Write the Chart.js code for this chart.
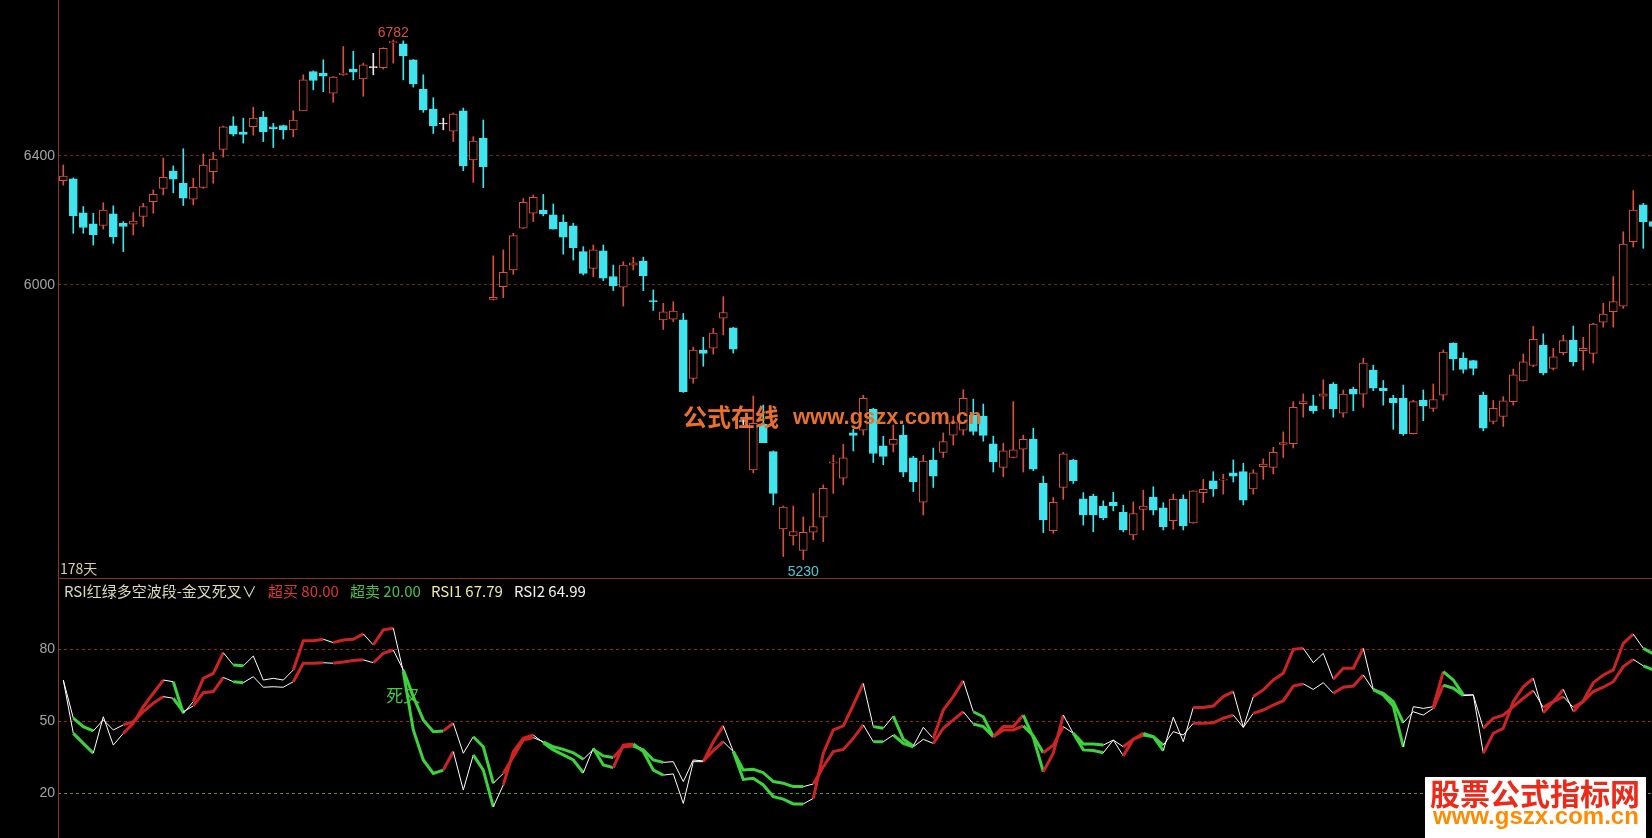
<!DOCTYPE html>
<html>
<head>
<meta charset="utf-8">
<script src="https://cdn.jsdelivr.net/npm/chart.js@4.4.1/dist/chart.umd.min.js"></script>
<style>
  html, body { margin: 0; padding: 0; background: #000; }
  body { width: 1652px; height: 838px; position: relative; overflow: hidden; }
  canvas { position: absolute; left: 0; }
  #kline { top: 0; }
  #rsi { top: 578px; }
  .t { position: absolute; white-space: nowrap; font: 15px/17px "Noto Sans CJK SC", sans-serif; z-index: 2; }
  .wm { position: absolute; white-space: nowrap; font-weight: bold; z-index: 3; }
  #logo { position: absolute; left: 1425px; top: 777px; width: 221px; height: 61px; background: #fff; z-index: 3; }
</style>
</head>
<body>
<canvas id="kline" width="1652" height="578"></canvas>
<canvas id="rsi" width="1652" height="260"></canvas>

<div class="t" style="left:64px; top:582px; color:#dcdcb4">RSI红绿多空波段-金叉死叉∨</div>
<div class="t" style="left:268px; top:582px; color:#d83a30">超买 80.00</div>
<div class="t" style="left:350px; top:582px; color:#4cc04c">超卖 20.00</div>
<div class="t" style="left:431px; top:582px; color:#ecec9c">RSI1 67.79</div>
<div class="t" style="left:514px; top:582px; color:#f0f0f0">RSI2 64.99</div>

<div class="wm" style="left:683px; top:404px; color:#e8702c; font-size:24px; line-height:24px; font-family:'Noto Sans CJK SC'">公式在线</div>
<div class="wm" style="left:793px; top:406px; color:#e8702c; font-size:22px; line-height:22px; font-family:'Liberation Sans'">www.gszx.com.cn</div>
<div id="logo"></div>
<div class="wm" style="left:1430px; top:777px; color:#ec2a1a; font-size:30px; line-height:30px; font-family:'Noto Sans CJK SC'">股票公式指标网</div>
<div class="wm" style="left:1433px; top:804px; color:#ff8c00; font-size:24px; line-height:24px; font-family:'Liberation Sans'">www.gszx.com.cn</div>

<script>
// price ticks and rsi ticks
const priceTicks = [6000, 6400]
const rsiTicks = [20, 50, 80]
const dayCount = '178天'
const deathCrossAt = 34

const openP = [6321,6327,6220,6186,6181,6217,6188,6185,6209,6255,
  6297,6352,6313,6263,6300,6350,6421,6497,6477,6494,
  6525,6494,6498,6484,6546,6676,6671,6604,6665,6684,
  6651,6689,6689,6772,6769,6715,6617,6552,6503,6480,
  6546,6387,6457,5957,5995,6045,6173,6219,6229,6214,
  6191,6180,6101,6050,6103,6025,5993,6060,6072,5953,
  5896,5898,5896,5726,5808,5813,5901,5873,5604,5470,
  5597,5520,5311,5292,5254,5302,5342,5488,5447,5572,
  5580,5638,5536,5540,5566,5503,5382,5497,5518,5566,
  5580,5621,5619,5542,5477,5504,5527,5555,5433,5306,
  5422,5497,5391,5399,5372,5382,5355,5295,5363,5396,
  5367,5333,5390,5327,5408,5440,5442,5462,5465,5418,
  5479,5477,5540,5542,5654,5648,5675,5710,5627,5695,
  5681,5750,5698,5669,5669,5570,5664,5641,5678,5828,
  5784,5777,5678,5604,5618,5660,5719,5763,5822,5755,
  5800,5837,5806,5798,5889,5920,5937,6131,6245,6193]

const highP = [6371,6330,6240,6219,6252,6242,6193,6221,6250,6292,
  6393,6368,6423,6329,6406,6411,6496,6527,6522,6558,
  6544,6505,6499,6546,6665,6678,6715,6659,6760,6744,
  6704,6737,6756,6782,6779,6716,6665,6589,6522,6539,
  6555,6462,6516,6088,6106,6157,6265,6276,6278,6248,
  6214,6188,6116,6121,6121,6060,6070,6084,6084,5985,
  5945,5950,5915,5816,5845,5871,5965,5874,5615,5676,
  5650,5522,5372,5372,5343,5406,5429,5510,5540,5582,
  5678,5641,5563,5594,5594,5507,5510,5530,5572,5619,
  5694,5667,5653,5563,5543,5660,5566,5585,5453,5395,
  5518,5499,5408,5404,5386,5409,5374,5383,5415,5424,
  5381,5404,5402,5413,5444,5465,5458,5497,5488,5470,
  5500,5532,5575,5660,5682,5678,5722,5714,5693,5701,
  5784,5764,5720,5678,5707,5664,5693,5710,5808,5829,
  5800,5778,5687,5663,5674,5753,5796,5877,5855,5813,
  5851,5878,5845,5886,5945,6025,6162,6290,6250,6200]

const lowP = [6307,6157,6157,6121,6170,6126,6101,6152,6178,6219,
  6276,6283,6243,6245,6297,6313,6396,6464,6441,6467,
  6446,6427,6454,6462,6546,6615,6609,6574,6663,6648,
  6594,6665,6684,6704,6648,6624,6541,6472,6484,6446,
  6353,6316,6299,5955,5962,6032,6172,6193,6211,6170,
  6093,6075,6030,6025,6013,5983,5937,6045,5983,5924,
  5868,5891,5686,5712,5761,5796,5852,5799,5595,5462,
  5545,5375,5238,5268,5230,5282,5277,5406,5429,5522,
  5566,5490,5484,5519,5451,5411,5348,5422,5504,5538,
  5566,5566,5549,5464,5451,5503,5464,5468,5301,5299,
  5390,5433,5321,5303,5335,5359,5303,5282,5308,5348,
  5308,5310,5308,5326,5381,5398,5404,5437,5375,5404,
  5444,5459,5504,5530,5616,5627,5639,5616,5616,5634,
  5644,5691,5650,5582,5565,5569,5606,5632,5664,5750,
  5741,5736,5578,5597,5590,5650,5718,5760,5736,5750,
  5794,5762,5750,5770,5875,5875,5930,6115,6111,6170]

const closeP = [6336,6211,6175,6153,6229,6147,6178,6195,6240,6278,
  6332,6326,6266,6300,6371,6390,6494,6470,6469,6522,
  6478,6487,6484,6516,6648,6646,6660,6657,6671,6674,
  6698,6689,6754,6777,6728,6635,6549,6497,6503,6535,
  6368,6448,6366,5963,6038,6150,6253,6269,6217,6170,
  6145,6113,6035,6106,6020,5997,6060,6067,6028,5949,
  5920,5922,5688,5808,5798,5857,5918,5810,5604,5599,
  5545,5406,5369,5304,5302,5317,5420,5492,5503,5565,
  5669,5515,5507,5554,5464,5438,5494,5453,5548,5601,
  5669,5576,5565,5492,5522,5525,5554,5472,5335,5382,
  5514,5440,5348,5348,5341,5373,5308,5352,5372,5361,
  5317,5390,5319,5413,5417,5418,5444,5453,5388,5462,
  5486,5518,5545,5644,5660,5634,5682,5639,5681,5681,
  5770,5698,5691,5657,5570,5660,5648,5666,5802,5782,
  5752,5755,5585,5641,5662,5736,5774,5839,5742,5788,
  5835,5774,5813,5884,5913,5950,6124,6229,6193,6178]

const rsi1 = [67.2,45.0,40.8,36.7,51.9,40.1,45.0,49.2,56.1,61.7,
  67.2,66.5,53.3,58.2,67.9,70.0,78.6,73.5,73.1,77.2,
  67.2,67.9,67.2,71.4,83.6,83.6,84.2,82.8,83.9,84.2,
  86.4,81.8,88.1,88.8,70.7,46.4,33.9,28.3,29.7,37.4,
  21.4,36.0,29.7,14.4,23.5,37.4,42.9,44.3,41.1,38.1,
  36.0,33.9,28.6,38.8,31.8,30.7,40.1,40.6,37.4,29.7,
  27.6,28.1,15.8,33.2,33.2,41.5,48.1,37.4,25.8,26.3,
  23.5,18.6,17.6,15.6,15.6,17.9,36.7,46.4,48.1,56.8,
  65.8,47.8,47.1,52.2,42.5,39.7,47.5,42.9,54.7,60.3,
  66.9,54.0,51.9,43.6,47.8,47.8,52.6,43.3,29.0,36.7,
  52.6,45.0,38.1,37.8,36.9,42.2,35.6,42.5,45.0,43.6,
  37.8,51.7,41.5,55.8,55.8,56.4,60.3,62.4,47.5,60.3,
  63.1,67.2,70.0,80.0,80.4,74.4,78.3,67.5,72.1,72.1,
  80.4,63.3,61.0,56.4,39.4,56.1,55.4,56.1,70.7,67.2,
  61.0,61.0,36.7,45.0,47.1,58.2,64.4,67.9,53.6,58.2,
  63.3,54.0,58.6,66.1,69.3,71.4,82.5,86.3,80.4,78.1]

const rsi2 = [67.2,51.3,47.8,46.0,50.6,46.4,48.5,49.9,54.0,57.5,
  60.3,59.6,54.0,56.4,61.9,62.4,68.3,66.5,66.1,68.6,
  64.2,64.4,64.2,66.5,74.2,74.2,74.4,74.2,74.7,75.3,
  75.6,74.4,78.3,79.7,71.4,60.3,50.6,45.7,46.0,49.2,
  36.7,43.6,39.4,24.2,28.3,35.3,42.2,43.2,41.5,39.4,
  38.3,36.9,34.2,38.3,35.6,34.9,39.4,39.7,38.1,33.9,
  32.9,33.2,24.9,33.9,33.5,37.8,41.5,37.4,29.7,30.0,
  28.6,24.9,24.2,22.8,22.8,23.9,31.1,37.4,38.3,42.9,
  48.5,41.5,41.5,44.3,40.8,39.4,42.5,40.8,47.1,50.6,
  54.0,48.9,47.8,43.6,46.4,46.4,48.1,43.9,36.9,40.1,
  47.8,45.0,40.6,40.6,40.1,42.2,39.4,42.5,44.3,43.6,
  40.1,45.7,44.3,49.2,49.2,49.4,51.3,52.6,47.5,53.3,
  54.7,56.8,58.6,64.7,65.6,63.3,66.1,61.7,64.2,64.7,
  69.3,63.1,61.7,58.2,49.4,54.0,52.6,55.4,65.1,63.8,
  60.7,61.0,47.1,51.3,52.6,56.1,59.6,62.8,55.8,58.2,
  60.3,55.8,58.2,62.4,64.2,66.5,72.8,75.8,73.1,71.4]

// 1 = 多 (red), -1 = 空 (green), 0 = none ; value i colours the step from i-1 to i
const waveState = [0,0,-1,-1,0,0,0,1,1,1,
  1,0,-1,0,1,1,1,0,-1,0,
  0,0,0,0,1,1,1,0,1,1,
  1,0,1,1,0,-1,-1,-1,-1,1,
  0,0,-1,-1,0,1,1,1,0,-1,
  -1,-1,-1,0,-1,-1,1,1,-1,-1,
  -1,0,0,0,0,1,1,0,-1,-1,
  -1,-1,-1,-1,-1,0,1,1,1,1,
  1,0,-1,0,-1,-1,0,0,1,1,
  1,0,-1,-1,1,1,1,-1,-1,1,
  1,0,-1,-1,-1,0,0,1,1,-1,
  -1,0,0,0,1,1,1,1,0,0,
  1,1,1,1,1,0,0,0,1,1,
  1,0,-1,-1,-1,0,0,0,1,-1,
  -1,0,0,1,1,1,1,1,0,1,
  1,0,1,1,1,1,1,1,0,-1]

const UP = '#d9503f'
const DOWN = '#40e4ec'
const FLAT = '#e8e8e8'
const FRAME = '#8c3426'
const xMin = -0.53
const xMax = 158.87

const idx = openP.map((v, i) => i)

function candleColor(i) {
  if (closeP[i] > openP[i]) return UP
  if (closeP[i] < openP[i]) return DOWN
  return FLAT
}

function fixAxis(s) {
  s.width = 58
  s.paddingTop = 0
  s.paddingBottom = 0
}

const framePlugin = {
  id: 'frame',
  afterDraw(chart, args, opts) {
    const ctx = chart.ctx
    ctx.save()
    ctx.strokeStyle = FRAME
    ctx.lineWidth = 1
    ctx.beginPath()
    ctx.moveTo(58.5, 0)
    ctx.lineTo(58.5, chart.height)
    if (opts.top) {
      ctx.moveTo(58, 0.5)
      ctx.lineTo(chart.width, 0.5)
    }
    ctx.stroke()
    ctx.restore()
  }
}

const priceMarks = {
  id: 'priceMarks',
  afterDatasetsDraw(chart) {
    const ctx = chart.ctx
    const x = chart.scales.x
    const y = chart.scales.y
    let hi = 0, lo = 0
    for (let i = 0; i < highP.length; i++) {
      if (highP[i] > highP[hi]) hi = i
      if (lowP[i] < lowP[lo]) lo = i
    }
    ctx.save()
    ctx.font = '14px "Liberation Sans"'
    ctx.textAlign = 'center'
    ctx.textBaseline = 'alphabetic'
    ctx.fillStyle = UP
    ctx.fillText(String(highP[hi]), x.getPixelForValue(hi), y.getPixelForValue(highP[hi]) - 3)
    ctx.fillStyle = '#4cc8d6'
    ctx.fillText(String(lowP[lo]), x.getPixelForValue(lo), y.getPixelForValue(lowP[lo]) + 16)
    ctx.textAlign = 'left'
    ctx.fillStyle = '#d8d0a8'
    ctx.font = '14px "Noto Sans CJK SC"'
    ctx.fillText(dayCount, chart.chartArea.left + 2, chart.chartArea.bottom - 4)
    ctx.restore()
  }
}

const crossMark = {
  id: 'crossMark',
  afterDatasetsDraw(chart) {
    const ctx = chart.ctx
    const x = chart.scales.x
    const y = chart.scales.y
    const mid = (rsi1[deathCrossAt] + rsi2[deathCrossAt]) / 2
    ctx.save()
    ctx.font = '17px "Noto Sans CJK SC"'
    ctx.textAlign = 'center'
    ctx.textBaseline = 'middle'
    ctx.fillStyle = '#44cc44'
    ctx.fillText('死叉', x.getPixelForValue(deathCrossAt), y.getPixelForValue(mid) + 25)
    ctx.restore()
  }
}

// K线
new Chart(document.getElementById('kline'), {
  type: 'bar',
  data: {
    datasets: [
      {
        label: 'wick',
        data: idx.map(i => ({ x: i, y: [lowP[i], highP[i]] })),
        backgroundColor: idx.map(candleColor),
        barThickness: 1,
        grouped: false,
        order: 2
      },
      {
        label: 'body',
        data: idx.map(i => ({ x: i, y: [openP[i], closeP[i]] })),
        backgroundColor: idx.map(i => closeP[i] > openP[i] ? '#000' : candleColor(i)),
        borderColor: idx.map(candleColor),
        borderWidth: 1,
        borderSkipped: false,
        barThickness: 8,
        minBarLength: 1,
        grouped: false,
        order: 1
      }
    ]
  },
  options: {
    responsive: false,
    animation: false,
    devicePixelRatio: 1,
    layout: { padding: 0 },
    plugins: { legend: { display: false }, tooltip: { enabled: false }, frame: { top: false } },
    scales: {
      x: { type: 'linear', min: xMin, max: xMax, offset: false, display: false },
      y: {
        type: 'logarithmic',
        position: 'left',
        min: 5182,
        max: 6919,
        afterFit: fixAxis,
        afterBuildTicks: s => { s.ticks = priceTicks.map(v => ({ value: v })) },
        ticks: {
          color: '#a4a4a4',
          padding: 3,
          autoSkip: false,
          font: { size: 14, family: 'Liberation Sans' },
          callback: v => String(v)
        },
        grid: { color: '#6e2c22', drawTicks: false, lineWidth: 1 },
        border: { display: false, dash: [3, 3] }
      }
    }
  },
  plugins: [framePlugin, priceMarks]
})

// RSI
function waveColor(c) {
  const s = waveState[c.p1DataIndex]
  if (s === 1) return '#cc2424'
  if (s === -1) return '#3ed23e'
  return '#ffffff'
}
function waveWidth(c) {
  return waveState[c.p1DataIndex] === 0 ? 1 : 3
}

new Chart(document.getElementById('rsi'), {
  type: 'line',
  data: {
    datasets: [
      {
        label: 'RSI2',
        data: idx.map(i => ({ x: i, y: rsi2[i] })),
        borderColor: '#ffffff',
        borderWidth: 1,
        pointRadius: 0,
        tension: 0,
        segment: { borderColor: waveColor, borderWidth: waveWidth }
      },
      {
        label: 'RSI1',
        data: idx.map(i => ({ x: i, y: rsi1[i] })),
        borderColor: '#ffffff',
        borderWidth: 1,
        pointRadius: 0,
        tension: 0,
        segment: { borderColor: waveColor, borderWidth: waveWidth }
      }
    ]
  },
  options: {
    responsive: false,
    animation: false,
    devicePixelRatio: 1,
    layout: { padding: 0 },
    plugins: { legend: { display: false }, tooltip: { enabled: false }, frame: { top: true } },
    scales: {
      x: { type: 'linear', min: xMin, max: xMax, offset: false, display: false },
      y: {
        position: 'left',
        min: 1.4,
        max: 109.7,
        afterFit: fixAxis,
        afterBuildTicks: s => { s.ticks = rsiTicks.map(v => ({ value: v })) },
        ticks: {
          color: '#a4a4a4',
          padding: 3,
          autoSkip: false,
          font: { size: 14, family: 'Liberation Sans' },
          callback: v => String(v)
        },
        grid: {
          color: c => c.tick && c.tick.value === 20 ? '#4f9a4f' : '#8a2c26',
          drawTicks: false,
          lineWidth: 1
        },
        border: { display: false, dash: [3, 3] }
      }
    }
  },
  plugins: [framePlugin, crossMark]
})
</script>
</body>
</html>
